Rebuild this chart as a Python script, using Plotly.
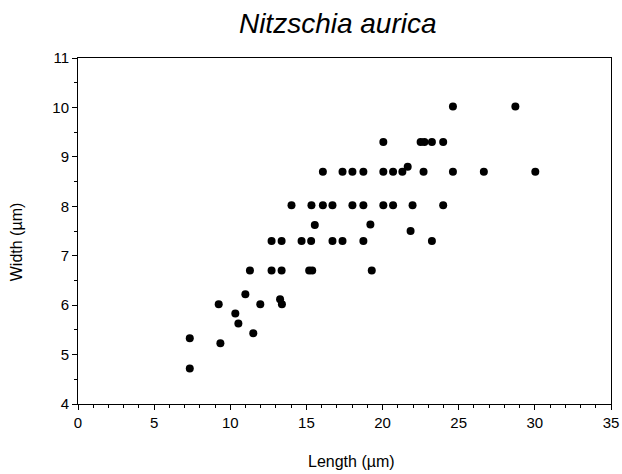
import plotly.graph_objects as go

length_um = [
    7.34, 9.35, 7.34, 11.51, 10.53, 10.33,
    9.24, 11.97, 13.39, 13.27, 10.99,
    11.29, 12.71, 13.37, 15.18, 15.38, 19.29,
    12.71, 13.37, 14.68, 15.31, 16.71, 17.37, 18.74, 23.24,
    21.84, 15.55, 19.20,
    14.02, 15.33, 16.08, 16.71, 18.02, 18.74, 20.05, 20.69, 21.97, 23.98,
    16.08, 17.37, 18.02, 18.74, 20.05, 20.69, 21.30, 22.69, 24.62, 26.65, 30.03,
    21.65,
    20.05, 22.50, 22.75, 23.24, 23.98,
    24.62, 28.72,
]
width_um = [
    4.72, 5.23, 5.33, 5.43, 5.63, 5.83,
    6.02, 6.02, 6.02, 6.12, 6.22,
    6.70, 6.70, 6.70, 6.70, 6.70, 6.70,
    7.30, 7.30, 7.30, 7.30, 7.30, 7.30, 7.30, 7.30,
    7.50, 7.62, 7.63,
    8.02, 8.02, 8.02, 8.02, 8.02, 8.02, 8.02, 8.02, 8.02, 8.02,
    8.70, 8.70, 8.70, 8.70, 8.70, 8.70, 8.70, 8.70, 8.70, 8.70, 8.70,
    8.80,
    9.30, 9.30, 9.30, 9.30, 9.30,
    10.02, 10.02,
]

FONT = "Liberation Sans, Arial, Helvetica, sans-serif"

fig = go.Figure(go.Scatter(
    x=length_um, y=width_um, mode="markers",
    marker=dict(color="black", size=8, line=dict(width=0)),
    showlegend=False,
))

axis_common = dict(
    showgrid=False, zeroline=False, showline=True, linecolor="black", linewidth=1,
    mirror=True, ticks="outside", ticklen=5, tickcolor="black", tickwidth=1,
    tickfont=dict(family=FONT, size=15, color="black"), automargin=False,
)

fig.update_layout(
    width=622, height=474,
    margin=dict(l=78, r=11, t=58, b=70),
    paper_bgcolor="white", plot_bgcolor="white",
    font=dict(family=FONT, color="black"),
    title=dict(text="<i>Nitzschia aurica</i>", x=0.543, xanchor="center",
               y=0.952, yanchor="middle",
               font=dict(family=FONT, size=28, color="black")),
    xaxis=dict(range=[0, 35], dtick=5, tick0=0,
               minor=dict(dtick=1, ticks="outside", ticklen=3, tickcolor="black"),
               **axis_common),
    yaxis=dict(range=[4, 11], dtick=1, tick0=4,
               minor=dict(dtick=0.5, ticks="outside", ticklen=3, tickcolor="black"),
               **axis_common),
    annotations=[
        dict(text="Length (µm)", xref="paper", yref="paper", x=0.513, y=-0.165,
             xanchor="center", yanchor="middle", showarrow=False,
             font=dict(family=FONT, size=16, color="black")),
        dict(text="Width (µm)", xref="paper", yref="paper", x=-0.116, y=0.468,
             xanchor="center", yanchor="middle", showarrow=False, textangle=-90,
             font=dict(family=FONT, size=16, color="black")),
    ],
)

fig.write_html("out.html")
